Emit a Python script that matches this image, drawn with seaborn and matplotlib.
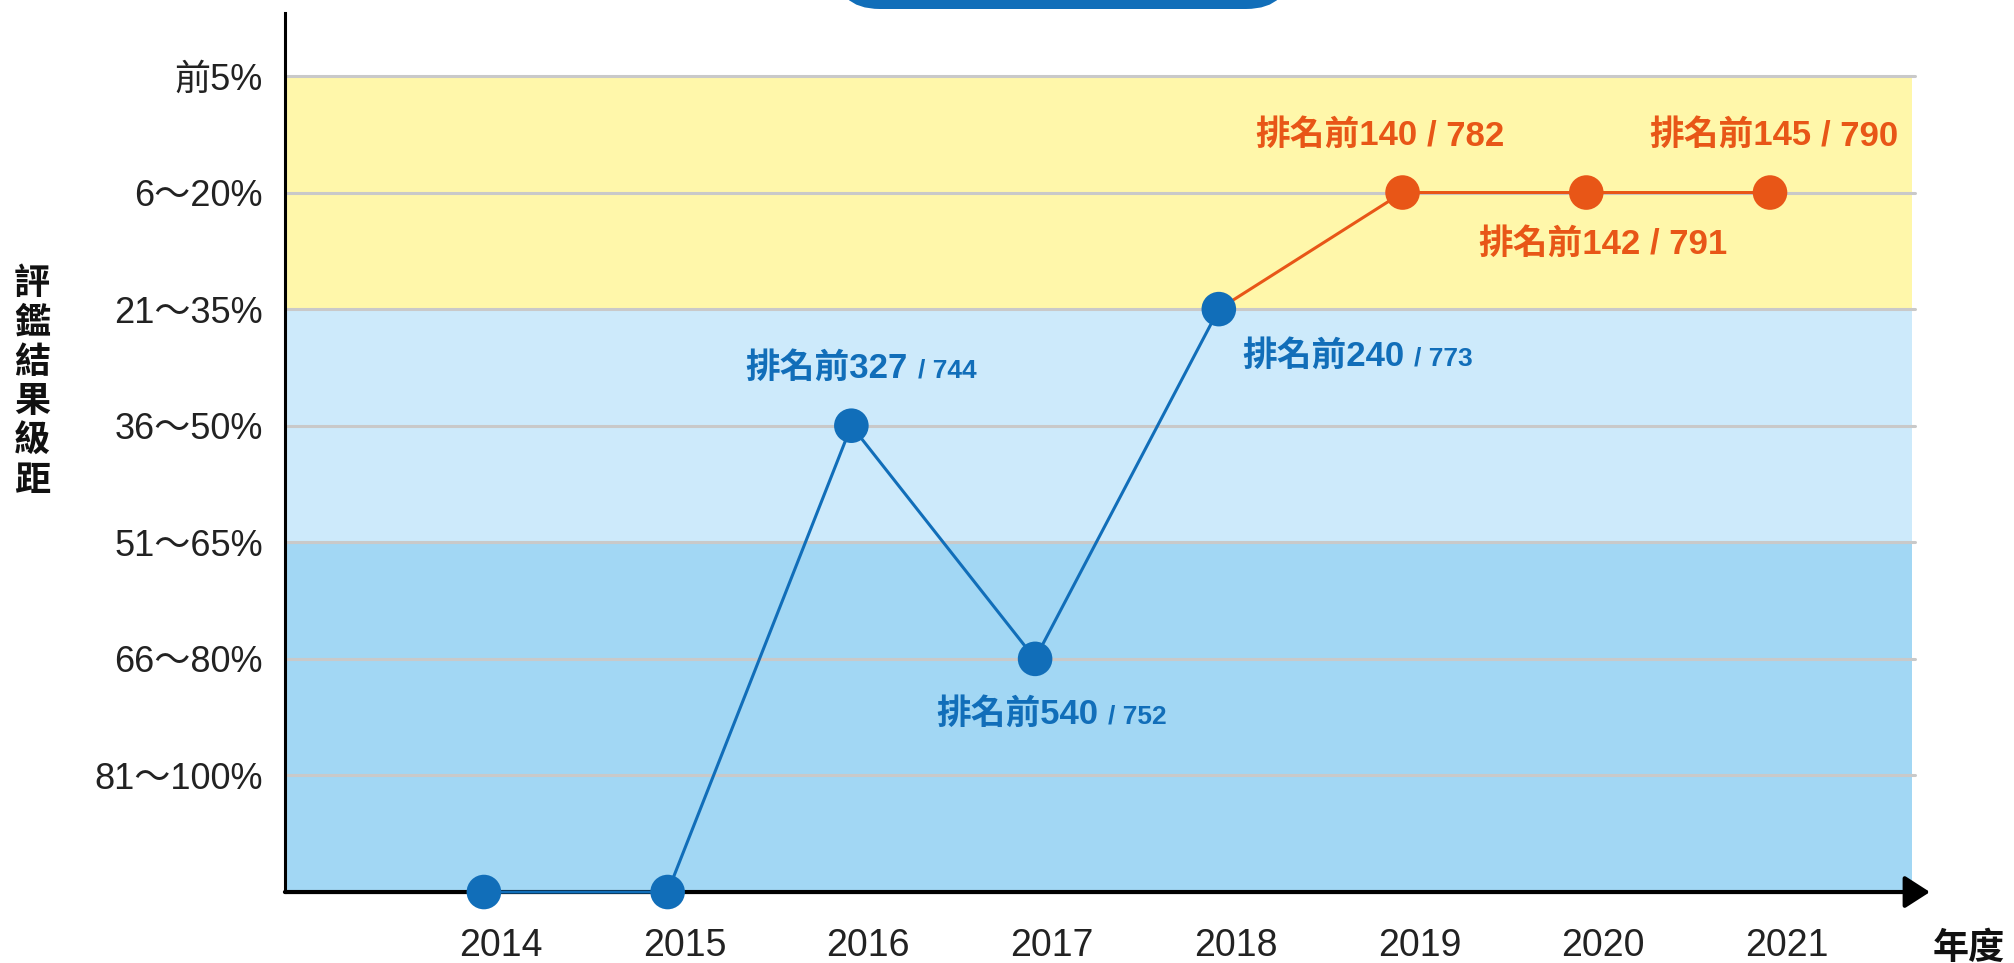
import matplotlib
matplotlib.use('Agg')
import matplotlib.pyplot as plt
import seaborn as sns
import pandas as pd
from matplotlib import font_manager
from matplotlib.patches import FancyBboxPatch
from matplotlib.transforms import IdentityTransform, ScaledTranslation

# data
years = [2014, 2015, 2016, 2017, 2018, 2019, 2020, 2021]
levels = [0, 0, 4, 2, 5, 6, 6, 6]          # 1 = 81~100% ... 7 = 前5%, 0 = no ranking
groups = ['early'] * 5 + ['recent'] * 3
level_labels = ['81～100%', '66～80%', '51～65%', '36～50%', '21～35%', '6～20%', '前5%']

rank_years = [2016, 2017, 2018, 2019, 2020, 2021]
rank_main = ['排名前327', '排名前540', '排名前240', '排名前140', '排名前142', '排名前145']
rank_total = ['744', '752', '773', '782', '791', '790']

BLUE = '#116eb9'
ORANGE = '#e85617'
colors = {'early': BLUE, 'recent': ORANGE}

sns.set_theme(style='white')
names = {f.name for f in font_manager.fontManager.ttflist}
narrow = 'Liberation Sans Narrow' if 'Liberation Sans Narrow' in names else 'Liberation Sans'
family = [narrow, 'Noto Sans CJK TC', 'DejaVu Sans']
cjk = ['Noto Sans CJK TC', 'DejaVu Sans']
plt.rcParams['font.family'] = family

df = pd.DataFrame({'year': years, 'level': levels, 'group': groups})

fig = plt.figure(figsize=(20.15, 9.63), dpi=100)
ax = fig.add_axes([0.1414, 0.0737, 0.8075, 0.9128])
ax.set_xlim(2012.917, 2021.773)
ax.set_ylim(0, 7.54)

# background bands and grid
ax.axhspan(0, 3, color='#a2d7f4', lw=0, zorder=0)
ax.axhspan(3, 5, color='#cdeafb', lw=0, zorder=0)
ax.axhspan(5, 7, color='#fff7aa', lw=0, zorder=0)
for lv in range(1, 8):
    ax.axhline(lv, xmin=0, xmax=1.002, color='#c9c9c9', lw=2.2, zorder=1, clip_on=False)

# lines
sns.lineplot(data=df.iloc[4:], x='year', y='level', color=ORANGE, lw=2.2,
             ax=ax, zorder=3)
sns.lineplot(data=df.iloc[:5], x='year', y='level', color=BLUE, lw=2.2,
             ax=ax, zorder=4)
sns.scatterplot(data=df, x='year', y='level', hue='group', palette=colors,
                s=620, linewidth=0, legend=False, ax=ax, zorder=5)
for coll in ax.collections + ax.lines:
    coll.set_clip_on(False)

# axes styling
ax.set_xticks(years)
ax.set_xticklabels([str(y) for y in years])
ax.set_yticks(range(1, 8))
ax.set_yticklabels(level_labels)
ax.tick_params(axis='x', length=0, pad=26, labelsize=27, colors='#222222')
ax.tick_params(axis='y', length=0, pad=16, labelsize=26, colors='#222222')
for lbl in ax.get_xticklabels():
    lbl.set_transform(lbl.get_transform() + ScaledTranslation(0.17, 0, fig.dpi_scale_trans))
ax.set_xlabel('')
ax.set_ylabel('')
for side in ['top', 'right', 'bottom']:
    ax.spines[side].set_visible(False)
ax.spines['left'].set_color('black')
ax.spines['left'].set_linewidth(2.2)
ax.grid(False)

ax.annotate('', xy=(1.011, 0), xytext=(0, 0), xycoords='axes fraction',
            arrowprops=dict(arrowstyle='-|>,head_length=0.7,head_width=0.45',
                            color='black', lw=3, shrinkA=0, shrinkB=0,
                            mutation_scale=22),
            zorder=2.5, annotation_clip=False)

# rank labels
offsets = [(-76, 41), (-71, -40), (17, -34), (-106, 41), (-78, -37), (-87, 41)]
for yr, main, total, off in zip(rank_years, rank_main, rank_total, offsets):
    lv = levels[years.index(yr)]
    grp = groups[years.index(yr)]
    c = colors[grp]
    t = ax.annotate(main, xy=(yr, lv), xytext=off, textcoords='offset points',
                    ha='left', va='center', fontsize=25, fontweight='bold',
                    color=c, zorder=6)
    small = grp == 'early'
    ax.annotate('/ ' + total, xy=(1, 0), xycoords=t,
                xytext=(7, 2 if small else 0), textcoords='offset points',
                ha='left', va='bottom', fontsize=19 if small else 25,
                fontweight='bold', color=c, zorder=6)

# axis titles
fig.text(32 / 2015, 1 - 382 / 963, '\n'.join('評鑑結果級距'), ha='center', va='center',
         fontsize=26, fontweight='bold', linespacing=1.08, family=cjk, color='#111111')
fig.text(1969 / 2015, 1 - 948 / 963, '年度', ha='center', va='center',
         fontsize=26, fontweight='bold', family=cjk, color='#111111')

# header tab cut off at the top
tab = FancyBboxPatch((835, 954), 456, 120, boxstyle='round,pad=0,rounding_size=45',
                     transform=IdentityTransform(), facecolor=BLUE, edgecolor='none')
fig.add_artist(tab)

fig.savefig('out.png', dpi=100)
